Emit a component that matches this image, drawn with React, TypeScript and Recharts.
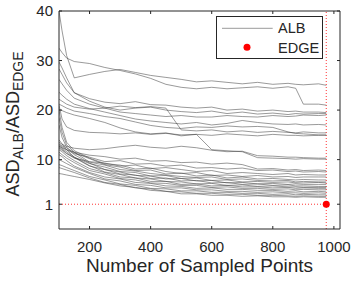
import { ComposedChart, Line, XAxis, YAxis, ReferenceLine, ReferenceDot } from "recharts";

const font = '"Liberation Sans", Arial, Helvetica, sans-serif';
const ink = "#262626";

const sampledPoints = [100, 110, 125, 150, 200, 250, 300, 350, 400, 450, 500, 550, 600, 650, 700, 750, 800, 850, 875, 900, 950, 975];

// one row per ALB run, values at sampledPoints
const albSeries = [
    [40, 36, 31, 26.5, 27.2, 27.8, 28.2, 27.6, 27, 26.6, 26.2, 25.7, 25.9, 25.6, 25.3, 25.6, 25.2, 25.4, 25.2, 25.1, 25.3, 25],
    [32.5, 31.6, 30.5, 29.8, 29.4, 28.6, 28, 27.3, 26.4, 25.2, 24.6, 24.3, 24.6, 24.3, 24.5, 24.7, 24.4, 24.7, 24.4, 21.2, 21.2, 21],
    [29.7, 28.5, 26.5, 23.5, 22.3, 21.6, 21.3, 21.7, 21.1, 21, 20.6, 20.4, 20.6, 20, 20.2, 19.8, 20, 19.7, 19.8, 19.6, 19.6, 19.5],
    [28.3, 27.2, 25.5, 23.5, 21.8, 20.6, 20, 20.4, 20.6, 20, 19.7, 19.5, 19.8, 19.3, 19.6, 19.2, 19.4, 19.1, 19.3, 19.2, 19.3, 19.3],
    [26.2, 25.3, 24, 22.4, 21.2, 20.4, 19.6, 19.3, 19, 18.7, 18.9, 18.6, 18.6, 18.9, 18.7, 18.6, 18.9, 18.7, 18.8, 19, 18.9, 19],
    [23.6, 23, 22.2, 21.2, 20.3, 19.6, 18.9, 18.2, 17.8, 17.5, 17.2, 17.5, 17, 17.3, 17.9, 17.5, 17.2, 17.1, 17.2, 17, 17.1, 17],
    [22.2, 21.8, 21.2, 20.6, 20.2, 20.4, 20.8, 20.5, 20.7, 20.4, 16, 15.8, 16, 15.6, 15.8, 15.5, 15.7, 15.5, 15.4, 15.6, 15.4, 15.4],
    [21.2, 20.9, 20.4, 19.8, 19.3, 18.7, 18.3, 17.6, 16.9, 16.5, 16.3, 16.6, 16.5, 16.8, 16.6, 16.7, 16.5, 15.6, 15.3, 15.2, 15, 15],
    [20.2, 19.9, 19.5, 19, 18.3, 17.5, 16.4, 15.6, 15.2, 15.4, 14.8, 15.1, 14.9, 15.2, 15, 14.8, 15.1, 14.9, 14.9, 14.8, 14.9, 14.9],
    [13.5, 13.1, 12.7, 12.3, 12, 12.2, 12.6, 12.9, 12.5, 12.3, 12.7, 12.4, 11.9, 11.6, 11.7, 10.8, 10.7, 10.5, 10.5, 10.4, 10.3, 10.3],
    [21, 18.2, 16.6, 15.9, 15.5, 15.4, 15.2, 15.4, 15.1, 15.3, 15, 15.1, 12, 11.8, 11.6, 10.4, 10.3, 10.2, 10.1, 10.2, 10.1, 10.1],
    [12.7, 12.4, 12, 11.5, 10.9, 10.6, 10.1, 10.3, 9.7, 9.8, 9.4, 9.5, 9.1, 9.3, 9, 8.1, 8.2, 7.9, 8, 7.8, 7.9, 7.8],
    [13, 12.6, 12, 11.2, 10.5, 9.6, 9.8, 9.1, 9.2, 8.7, 8.9, 8.3, 8.4, 8.1, 8.3, 7.8, 7.9, 7.6, 7.7, 7.5, 7.6, 7.5],
    [12.5, 12.1, 11.3, 10.3, 9.6, 9.3, 8.7, 8.9, 8.2, 8.4, 8, 7.6, 7.8, 7.2, 7.4, 7.2, 7, 7.2, 6.9, 7, 6.9, 6.9],
    [20, 16.5, 13.5, 11.8, 10.3, 9.2, 8.9, 8.1, 8.3, 7.6, 7.2, 7.4, 6.8, 6.9, 6.6, 6.8, 6.5, 6.6, 6.4, 6.5, 6.5, 6.5],
    [13.2, 12.8, 12.4, 11.4, 10.2, 9, 8.5, 7.8, 7.9, 7.1, 7.3, 6.7, 6.9, 6.3, 6.5, 6.1, 6.2, 6, 5.9, 6, 5.9, 5.9],
    [18.5, 15.5, 13, 11.5, 9.5, 8.9, 8, 7.7, 7.2, 6.9, 6.6, 6.4, 6.5, 6, 6.1, 5.8, 5.7, 5.8, 5.5, 5.6, 5.5, 5.5],
    [12.8, 12.3, 11.6, 10.5, 9.2, 8.5, 7.6, 7.4, 6.7, 6.8, 6.2, 6.3, 5.8, 5.9, 5.5, 5.6, 5.4, 5.5, 5.3, 5.3, 5.4, 5.3],
    [17, 14.5, 12.5, 11, 9.3, 8, 7.5, 6.8, 6.7, 6.1, 6.2, 5.7, 5.8, 5.3, 5.4, 5.1, 5.2, 5, 5.1, 5, 5, 5],
    [12.3, 11.9, 11.2, 10.4, 8.7, 8, 7.1, 6.9, 6.2, 6.3, 5.7, 5.8, 5.3, 5.4, 5, 5.1, 4.8, 4.9, 4.7, 4.7, 4.6, 4.6],
    [14, 13.2, 12, 10.5, 8.8, 7.5, 7, 6.3, 6.1, 5.6, 5.5, 5.1, 5.2, 4.8, 4.9, 4.6, 4.7, 4.5, 4.5, 4.4, 4.4, 4.4],
    [12, 11.6, 10.8, 9.8, 8.2, 7.4, 6.5, 6.3, 5.6, 5.6, 5, 5.1, 4.7, 4.8, 4.5, 4.5, 4.3, 4.4, 4.2, 4.3, 4.2, 4.2],
    [11.5, 11, 10.3, 9.4, 7.8, 7.1, 6.2, 5.9, 5.3, 5.2, 4.8, 4.8, 4.4, 4.5, 4.2, 4.2, 4, 4.1, 3.9, 4, 3.9, 3.9],
    [11, 10.6, 9.8, 8.7, 7.4, 6.5, 6.1, 5.4, 5.2, 4.7, 4.6, 4.2, 4.3, 4, 4, 3.8, 3.8, 3.6, 3.7, 3.5, 3.6, 3.5],
    [10, 9.7, 9.2, 8.4, 7.2, 6.1, 5.7, 5, 4.8, 4.3, 4.3, 3.9, 3.9, 3.6, 3.6, 3.4, 3.5, 3.3, 3.3, 3.2, 3.3, 3.2],
    [9, 8.8, 8.4, 7.8, 6.6, 5.9, 5.1, 4.8, 4.2, 4.1, 3.7, 3.7, 3.4, 3.4, 3.2, 3.2, 3, 3.1, 2.9, 3, 2.9, 2.9],
    [8.4, 8.2, 7.9, 7.4, 6.3, 5.4, 5, 4.3, 4.1, 3.6, 3.5, 3.2, 3.2, 3, 3, 2.8, 2.8, 2.7, 2.6, 2.7, 2.6, 2.6],
    [7.2, 7.1, 6.9, 6.6, 6, 5.3, 4.7, 4.4, 3.8, 3.6, 3.1, 3.1, 2.8, 2.8, 2.6, 2.7, 2.5, 2.5, 2.4, 2.5, 2.4, 2.4],
];

const edgePoints = [{ x: 975, y: 1 }];

const xTicks = [200, 400, 600, 800, 1000];
const yTicks = [1, 10, 20, 30, 40];

const chartData = sampledPoints.map((x, i) => {
    const row: Record<string, number> = { x };
    albSeries.forEach((s, k) => {
        row["alb" + k] = s[i];
    });
    return row;
});

function XLabel() {
    return (
        <text x={199.5} y={272} textAnchor="middle" fontSize={19} fill={ink} fontFamily={font}>
            Number of Sampled Points
        </text>
    );
}

function YLabel() {
    return (
        <text transform="translate(19,124) rotate(-90)" textAnchor="middle" fontSize={18} fill={ink} fontFamily={font}>
            ASD
            <tspan fontSize={14} dy={4}>ALB</tspan>
            <tspan dy={-4}>/ASD</tspan>
            <tspan fontSize={14} dy={4}>EDGE</tspan>
        </text>
    );
}

const tickStyle = { fill: ink, fontSize: 15, fontFamily: font };
const blank = () => "";

export default function App() {
    return (
        <div style={{ position: "relative", width: 352, height: 282, background: "#fff" }}>
            <style>{"body{margin:0}"}</style>
            <ComposedChart width={352} height={282} data={chartData} margin={{ top: 0, right: 0, bottom: 0, left: 0 }}>
                <XAxis
                    dataKey="x"
                    type="number"
                    domain={[100, 1020]}
                    ticks={xTicks}
                    allowDataOverflow
                    tickSize={-3}
                    tickMargin={15}
                    tick={tickStyle}
                    stroke={ink}
                    height={53}
                    label={<XLabel />}
                />
                <XAxis
                    xAxisId="top"
                    orientation="top"
                    dataKey="x"
                    type="number"
                    domain={[100, 1020]}
                    ticks={xTicks}
                    allowDataOverflow
                    tickSize={-3}
                    tickFormatter={blank}
                    stroke={ink}
                    height={11}
                />
                <YAxis
                    type="number"
                    domain={[-4, 40]}
                    ticks={yTicks}
                    allowDataOverflow
                    tickSize={-3}
                    tickMargin={9}
                    tick={tickStyle}
                    stroke={ink}
                    width={59}
                    label={<YLabel />}
                />
                <YAxis
                    yAxisId="right"
                    orientation="right"
                    type="number"
                    domain={[-4, 40]}
                    ticks={yTicks}
                    allowDataOverflow
                    tickSize={-3}
                    tickFormatter={blank}
                    stroke={ink}
                    width={12}
                />
                <ReferenceLine x={975} stroke="#ff0000" strokeOpacity={0.8} strokeDasharray="1 2" />
                <ReferenceLine
                    segment={[{ x: 100, y: 1 }, { x: 975, y: 1 }]}
                    stroke="#ff0000"
                    strokeOpacity={0.8}
                    strokeDasharray="1 2"
                />
                {albSeries.map((_, k) => (
                    <Line
                        key={k}
                        dataKey={"alb" + k}
                        xAxisId={k === 0 ? "top" : 0}
                        yAxisId={k === 0 ? "right" : 0}
                        stroke="#3c3c3c"
                        strokeOpacity={0.65}
                        strokeWidth={0.8}
                        dot={false}
                        isAnimationActive={false}
                    />
                ))}
                {edgePoints.map((p, i) => (
                    <ReferenceDot key={i} x={p.x} y={p.y} r={3.5} fill="#ff0000" stroke="none" />
                ))}
            </ComposedChart>
            <svg width={108} height={45} style={{ position: "absolute", left: 216, top: 16 }}>
                <rect x={0.5} y={0.5} width={106} height={42} fill="#fff" stroke={ink} strokeWidth={1} />
                <line x1={6} y1={12.3} x2={56.7} y2={12.3} stroke="#3c3c3c" strokeOpacity={0.65} strokeWidth={0.8} />
                <circle cx={31} cy={31.3} r={3.5} fill="#ff0000" />
                <text x={62} y={17} fontSize={14.5} fill={ink} fontFamily={font}>ALB</text>
                <text x={62} y={37} fontSize={14.5} fill={ink} fontFamily={font}>EDGE</text>
            </svg>
        </div>
    );
}
